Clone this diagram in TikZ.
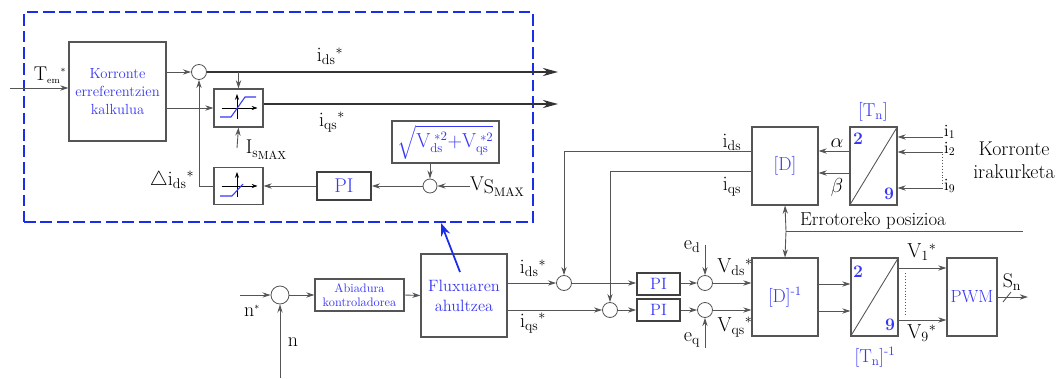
\documentclass[tikz,border=0pt]{standalone}
\usepackage{amsmath}
\usepackage{amssymb}
\usepackage{tikz}
\usetikzlibrary{arrows.meta}
\usetikzlibrary{positioning}

\definecolor{txtblue}{RGB}{55,55,245}
\definecolor{frameblue}{RGB}{25,45,235}
\definecolor{linegray}{RGB}{85,85,85}
\newcommand{\pxu}{0.03cm}
\newcommand{\sub}[1]{\mathrm{#1}}

\tikzset{
  wire/.style={draw=linegray, line width=0.75pt},
  sig/.style={wire, -{Stealth[length=7pt,width=4.5pt]}},
  bigsig/.style={wire, draw=black!80, line width=0.9pt, -{Stealth[length=13pt,width=7pt]}},
  blok/.style 2 args={draw=linegray, line width=0.9pt, inner sep=0pt,
    minimum width=#1*\pxu, minimum height=#2*\pxu, align=center},
  piblok/.style={blok={43}{22}, line width=1.4pt, draw=black!75,
    text=txtblue, font=\fontsize{14}{16}\selectfont},
  batu/.style={circle, draw=linegray, line width=0.7pt, inner sep=0pt,
    minimum size=15*\pxu},
  lbl/.style={inner sep=0pt, font=\fontsize{17}{19}\selectfont},
  blu/.style={inner sep=0pt, text=txtblue, align=center},
}

\begin{document}
\begin{tikzpicture}[x=0.03cm, y=-0.03cm]
		\useasboundingbox (0,0) rectangle (1058,378);
		
		% kanpoko markoa
		\node[draw=frameblue, line width=1.6pt, dash pattern=on 10pt off 4pt,
		  minimum width=509*\pxu, minimum height=210*\pxu] (frame) at (278.5,117) {};
		
		% goiko blokeak
		\node[blok={97}{99}, text=txtblue, font=\fontsize{12.5}{15.5}\selectfont] (kalk) at (117.5,91.5)
		  {Korronte\\erreferentzien\\kalkulua};
		\node[batu] (sum1) at (199,72) {};
		\node[blok={49}{38}] (satA) at (238.5,108) {};
		\node[blok={49}{37}] (satB) at (238.5,186) {};
		\node[blok={54}{28}, line width=1.4pt, draw=black!75, text=txtblue,
		  font=\fontsize{17}{19}\selectfont] (piA) at (344,186) {PI};
		\node[blok={107}{42}, text=txtblue, font=\fontsize{16}{18}\selectfont] (sqrt) at (445.5,142)
		  {$\sqrt{\sub{V}_{\sub{ds}}^{\;*2}{+}\sub{V}_{\sub{qs}}^{\;*2}}$};
		\node[batu, minimum size=14*\pxu] (sum2) at (430,186) {};
		
		% saturazioak
		\foreach \s in {satA,satB} {
		  \begin{scope}[shift={(\s.center)}]
		    \draw[-{Stealth[length=5pt,width=3.5pt]}, line width=0.6pt] (-17,0) -- (19,0);
		    \draw[-{Stealth[length=5pt,width=3.5pt]}, line width=0.6pt] (-1.5,11) -- (-1.5,-14);
		  \end{scope}
		}
		\draw[txtblue, line width=0.9pt] ([shift={(-18.5*\pxu,-9*\pxu)}]satA.center) -- ++(11,0) -- ++(14,-20) -- ++(11,0);
		\draw[txtblue, line width=0.9pt] ([shift={(-18.5*\pxu,-10*\pxu)}]satB.center) -- ++(12,0) -- ++(11,-12);
		
		\coordinate (temin) at (10,88);
		\coordinate (idsout) at (558,72);
		\coordinate (iqsout) at (558,104);
		\coordinate (ismax) at (237,148);
		\coordinate (vsin) at (470,186);
		
		\draw[sig] (temin) -- (temin -| kalk.west);
		\draw[sig] (kalk.east |- sum1) -- (sum1.west);
		\draw[bigsig] (sum1.east) -- (idsout);
		\draw[sig] (kalk.east |- satA) -- (satA.west);
		\draw[bigsig] (satA.east |- iqsout) -- (iqsout);
		\draw[sig] (satA.north |- sum1) -- (satA.north);
		\draw[sig] (ismax) -- (satA.south);
		\draw[sig] (satB.west) -| (sum1.south);
		\draw[sig] (piA.west) -- (satB.east);
		\draw[sig] (sum2.west) -- (piA.east);
		\draw[sig] (sqrt.south -| sum2) -- (sum2.north);
		\draw[sig] (vsin) -- (sum2.east);
		
		\node[lbl] at (50,75) {T$_{\scriptscriptstyle\sub{em}}{}^{\scriptscriptstyle *}$};
		\node[lbl] at (330,56) {$\sub{i}_{\sub{ds}}{}^{*}$};
		\node[lbl] at (332,122) {$\sub{i}_{\sub{qs}}{}^{*}$};
		\node[lbl] at (266,150) {I\raisebox{-3pt}{\fontsize{12}{12}\selectfont s\raisebox{-2pt}{\fontsize{10}{10}\selectfont MAX}}};
		\node[lbl] at (172,180) {$\triangle\sub{i}_{\sub{ds}}{}^{*}$};
		\node[lbl] at (497,187) {V\raisebox{-2pt}{S\raisebox{-3pt}{\fontsize{10.5}{10.5}\selectfont MAX}}};
		
		% beheko blokeak
		\node[batu, minimum size=18*\pxu] (sumN) at (280,295) {};
		\node[blok={89}{32}, text=txtblue, font=\fontsize{10.5}{12.5}\selectfont] (abiad) at (359.5,295)
		  {Abiadura\\kontroladorea};
		\node[blok={86}{83}, text=txtblue, font=\fontsize{14}{17}\selectfont] (flux) at (464,295.5)
		  {Fluxuaren\\ahultzea};
		\node[batu] (sum3) at (564,283) {};
		\node[batu] (sum4) at (610,310) {};
		\node[piblok] (pid) at (658.5,284) {PI};
		\node[piblok] (piq) at (658.5,310) {PI};
		\node[batu] (sum5) at (705,283) {};
		\node[batu] (sum6) at (705,310) {};
		\node[blok={66}{78}, text=txtblue, font=\fontsize{16}{18}\selectfont] (D) at (785,166) {[D]};
		\node[blok={47}{78}] (Tn) at (873.5,166) {};
		\node[blok={66}{78}, text=txtblue, font=\fontsize{16}{18}\selectfont] (Dinv) at (785,297) {[D]$^{\text{-}1}$};
		\node[blok={47}{78}] (Tninv) at (874.5,297) {};
		\node[blok={50}{78}, text=txtblue, font=\fontsize{15}{17}\selectfont] (pwm) at (972,297) {PWM};
		
		\draw[wire] (Tn.south west) -- (Tn.north east);
		\draw[wire] (Tninv.south west) -- (Tninv.north east);
		\node[blu, font=\fontsize{15}{17}\bfseries\selectfont] at (858,139) {2};
		\node[blu, font=\fontsize{15}{17}\bfseries\selectfont] at (889,194) {9};
		\node[blu, font=\fontsize{15}{17}\bfseries\selectfont] at (858,272) {2};
		\node[blu, font=\fontsize{15}{17}\bfseries\selectfont] at (890,325) {9};
		
		% blue gezia
		\coordinate (fluxin) at (460,272);
		\coordinate (framein) at (441,223);
		\draw[frameblue, line width=1.5pt, -{Stealth[length=11pt,width=8pt]}] (fluxin) -- (framein);
		
		\coordinate (nref) at (240,295);
		\coordinate (nfb) at (280,378);
		\coordinate (idsfb) at (752,151);
		\coordinate (iqsfb) at (752,171);
		\coordinate (iA) at (943,137);
		\coordinate (iB) at (943,152);
		\coordinate (iC) at (943,188);
		\coordinate (rotj) at (786,231);
		\coordinate (rotend) at (1023,231);
		\coordinate (edin) at (705,245);
		\coordinate (eqin) at (705,348);
		\coordinate (snout) at (1028,297);
		
		\draw[sig] (nref) -- (sumN.west);
		\draw[sig] (nfb) -- (sumN.south);
		\draw[sig] (sumN.east) -- (abiad.west);
		\draw[sig] (abiad.east) -- (flux.west);
		\draw[sig] (flux.east |- sum3) -- (sum3.west);
		\draw[sig] (flux.east |- sum4) -- (sum4.west);
		\draw[sig] (idsfb) -| (sum3.north);
		\draw[sig] (iqsfb) -| (sum4.north);
		\draw[sig] (sum3.east) -- (pid.west |- sum3);
		\draw[sig] (sum4.east) -- (piq.west |- sum4);
		\draw[sig] (pid.east |- sum5) -- (sum5.west);
		\draw[sig] (piq.east |- sum6) -- (sum6.west);
		\draw[sig] (edin) -- (sum5.north);
		\draw[sig] (eqin) -- (sum6.south);
		\draw[sig] (sum5.east) -- (sum5 -| Dinv.west);
		\draw[sig] (sum6.east) -- (sum6 -| Dinv.west);
		\draw[sig] ([yshift=-14*\pxu]Dinv.east) -- ([yshift=-14*\pxu]Tninv.west);
		\draw[sig] ([yshift=13*\pxu]Dinv.east) -- ([yshift=13*\pxu]Tninv.west);
		\draw[sig] ([yshift=29*\pxu]Tninv.east) -- ([yshift=29*\pxu]pwm.west);
		\draw[sig] ([yshift=-23*\pxu]Tninv.east) -- ([yshift=-23*\pxu]pwm.west);
		\draw[linegray, dotted, line width=0.5pt] (905,273) -- (905,315);
		\draw[sig] (pwm.east) -- (snout);
		\draw[wire] (1003,302) -- (1011,292);
		
		\draw[sig] ([yshift=15*\pxu]Tn.west) -- ([yshift=15*\pxu]D.east);
		\draw[sig] ([yshift=-7*\pxu]Tn.west) -- ([yshift=-7*\pxu]D.east);
		\draw[sig] (iA) -- (iA -| Tn.east);
		\draw[sig] (iB) -- (iB -| Tn.east);
		\draw[sig] (iC) -- (iC -| Tn.east);
		\draw[linegray, dotted, line width=0.5pt] (942,154) -- (942,186);
		\draw[sig] (rotj) -- (D.south);
		\draw[sig] (rotj) -- (Dinv.north);
		\draw[wire] (rotj) -- (rotend);
		
		\node[lbl] at (252,311) {n$^{\scriptscriptstyle *}$};
		\node[lbl] at (293,342) {n};
		\node[lbl] at (533,268) {$\sub{i}_{\sub{ds}}{}^{*}$};
		\node[lbl] at (533,323) {$\sub{i}_{\sub{qs}}{}^{*}$};
		\node[lbl] at (732,142) {$\sub{i}_{\sub{ds}}$};
		\node[lbl] at (732,187) {$\sub{i}_{\sub{qs}}$};
		\node[lbl] at (837,143) {$\alpha$};
		\node[lbl] at (837,187) {$\beta$};
		\node[blu, font=\fontsize{16}{18}\selectfont] at (873,112) {[T$_{\sub{n}}$]};
		\node[lbl, anchor=west, font=\fontsize{14}{16}\selectfont] at (944,132) {$\sub{i}_1$};
		\node[lbl, anchor=west, font=\fontsize{14}{16}\selectfont] at (944,149) {$\sub{i}_2$};
		\node[lbl, anchor=west, font=\fontsize{14}{16}\selectfont] at (944,186) {$\sub{i}_9$};
		\node[lbl, align=center, font=\fontsize{17}{20}\selectfont] at (1014,160) {Korronte\\irakurketa};
		\node[lbl, font=\fontsize{16}{18}\selectfont] at (873,221) {Errotoreko posizioa};
		\node[lbl] at (692,247) {$\sub{e}_{\sub{d}}$};
		\node[lbl] at (692,340) {$\sub{e}_{\sub{q}}$};
		\node[lbl] at (735,267) {$\sub{V}_{\sub{ds}}{}^{*}$};
		\node[lbl] at (735,327) {$\sub{V}_{\sub{qs}}{}^{*}$};
		\node[blu, font=\fontsize{16}{18}\selectfont] at (875,357) {[T$_{\sub{n}}$]$^{\text{-}1}$};
		\node[lbl] at (922,252) {$\sub{V}_1{}^{*}$};
		\node[lbl] at (922,333) {$\sub{V}_9{}^{*}$};
		\node[lbl] at (1012,282) {S$_{\sub{n}}$};
		\end{tikzpicture}
\end{document}
